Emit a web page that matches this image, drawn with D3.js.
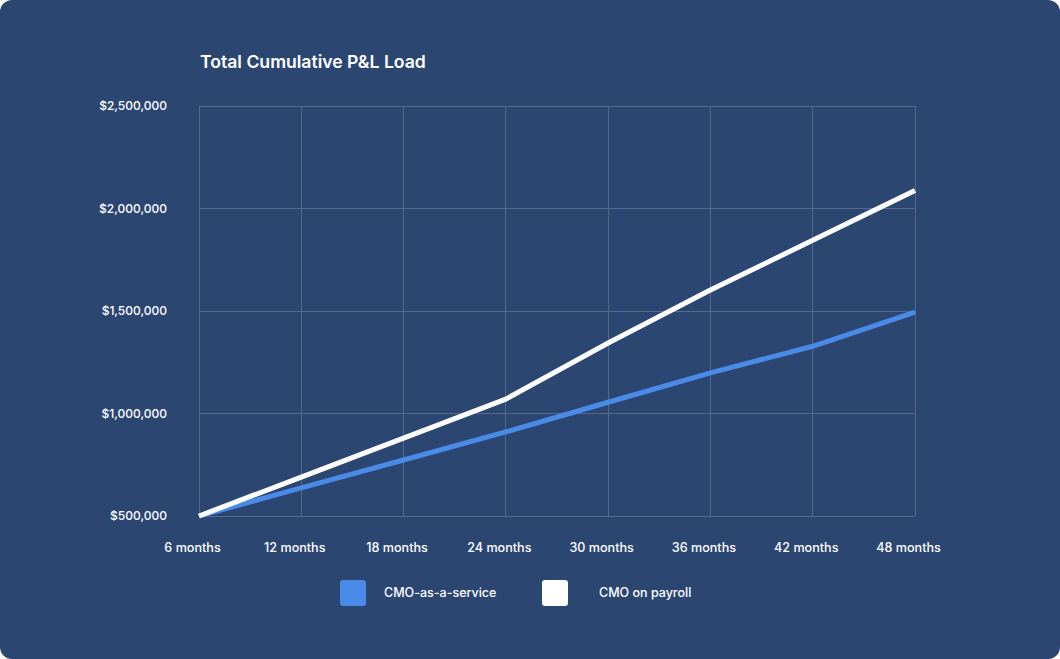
<!DOCTYPE html>
<html>
<head>
<meta charset="utf-8">
<script src="https://cdn.jsdelivr.net/npm/d3@7/dist/d3.min.js"></script>
<style>
  html, body { margin: 0; padding: 0; background: #ffffff; }
  svg { display: block; }
  text { font-family: "Inter", "Open Sans", sans-serif; fill: #ffffff; }
</style>
</head>
<body>
<svg id="chart" width="1060" height="659"></svg>
<script>
const title = "Total Cumulative P&L Load";
const categories = ["6 months", "12 months", "18 months", "24 months", "30 months", "36 months", "42 months", "48 months"];
const yTicks = [500000, 1000000, 1500000, 2000000, 2500000];
const seriesNames = ["CMO-as-a-service", "CMO on payroll"];
const cmoAsAService = [500000, 637000, 773000, 910000, 1055000, 1198000, 1328000, 1495000];
const cmoOnPayroll = [500000, 690000, 880000, 1070000, 1344000, 1602000, 1845000, 2088000];
const seriesColors = ["#4a8be8", "#ffffff"];

const W = 1060, H = 659;
const plot = { left: 199, right: 915, top: 106, bottom: 516 };
const svg = d3.select("#chart");

svg.append("rect").attr("x", 0).attr("y", 0).attr("width", W).attr("height", H)
  .attr("rx", 12).attr("fill", "#2c4672");

const x = d3.scalePoint().domain(categories).range([plot.left, plot.right]);
const y = d3.scaleLinear().domain([500000, 2500000]).range([plot.bottom, plot.top]);

const gridColor = "#56698d";
const grid = svg.append("g");
grid.selectAll("line.v").data(categories).join("line")
  .attr("x1", d => x(d)).attr("x2", d => x(d))
  .attr("y1", plot.top).attr("y2", plot.bottom)
  .attr("stroke", gridColor).attr("stroke-width", 1).attr("shape-rendering", "crispEdges");
grid.selectAll("line.h").data(yTicks).join("line")
  .attr("x1", plot.left).attr("x2", plot.right)
  .attr("y1", d => y(d)).attr("y2", d => y(d))
  .attr("stroke", gridColor).attr("stroke-width", 1).attr("shape-rendering", "crispEdges");

// y axis
const yAxis = svg.append("g").attr("transform", `translate(${plot.left},0)`)
  .call(d3.axisLeft(y).tickValues(yTicks).tickSize(0).tickPadding(32)
    .tickFormat(d => "$" + d3.format(",")(d)));
yAxis.select(".domain").remove();
yAxis.selectAll("text").attr("fill", "#ffffff").style("font-size", "12px")
  .style("font-family", "Inter, 'Open Sans', sans-serif").style("font-weight", 500);

// x axis
const xAxis = svg.append("g").attr("transform", `translate(0,${plot.bottom})`)
  .call(d3.axisBottom(x).tickSize(0).tickPadding(27));
xAxis.select(".domain").remove();
xAxis.selectAll("text").attr("fill", "#ffffff").attr("dx", -7).style("font-size", "12.6px")
  .style("font-family", "Inter, 'Open Sans', sans-serif").style("font-weight", 500);

// lines
const line = d3.line().x((d, i) => x(categories[i])).y(d => y(d)).curve(d3.curveLinear);
[cmoAsAService, cmoOnPayroll].forEach((s, k) => {
  svg.append("path").datum(s).attr("d", line)
    .attr("fill", "none").attr("stroke", seriesColors[k]).attr("stroke-width", 5)
    .attr("stroke-linejoin", "round").attr("stroke-linecap", "butt");
});

// title
svg.append("text").attr("x", 200).attr("y", 68).text(title)
  .style("font-size", "17.6px").style("font-weight", 600);

// legend
const legendX = [340, 542];
const lg = svg.append("g");
seriesNames.forEach((n, k) => {
  lg.append("rect").attr("x", legendX[k]).attr("y", 580).attr("width", 26).attr("height", 26)
    .attr("rx", 3).attr("fill", seriesColors[k]);
  lg.append("text").attr("x", legendX[k] + (k === 0 ? 44 : 57)).attr("y", 593).attr("dy", "0.35em")
    .text(n).style("font-size", "12.5px").style("font-weight", 500);
});
</script>
</body>
</html>
